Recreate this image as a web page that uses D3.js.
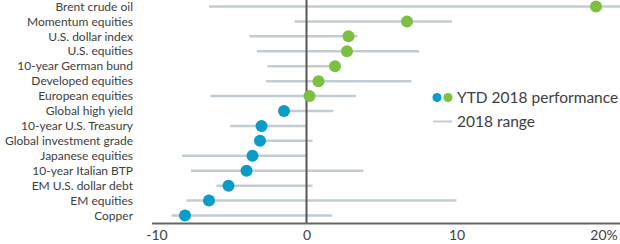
<!DOCTYPE html>
<html>
<head>
<meta charset="utf-8">
<script src="https://cdn.jsdelivr.net/npm/d3@7"></script>
<style>
  body { margin: 0; background: #fff; }
  svg text { font-family: Lato, "Noto Sans", sans-serif; fill: #3d3d3d; }
</style>
</head>
<body>
<svg id="chart"></svg>
<script>
const W = 620, H = 244;

const categories = [
    "Brent crude oil", "Momentum equities", "U.S. dollar index", "U.S. equities",
    "10-year German bund", "Developed equities", "European equities", "Global high yield",
    "10-year U.S. Treasury", "Global investment grade", "Japanese equities",
    "10-year Italian BTP", "EM U.S. dollar debt", "EM equities", "Copper"
];
const ytd = [19.3, 6.7, 2.8, 2.7, 1.9, 0.8, 0.2, -1.5, -3.0, -3.1, -3.6, -4.0, -5.2, -6.5, -8.1];
const rangeLow = [-6.5, -0.8, -3.8, -3.3, -2.6, -2.7, -6.4, -1.5, -5.1, -3.1, -8.3, -7.7, -6.0, -8.0, -9.0];
const rangeHigh = [21.5, 9.7, 3.4, 7.5, 2.1, 7.0, 3.3, 1.8, 0.0, 0.4, 0.0, 3.8, 0.4, 10.0, 1.7];
const xTicks = [-10, 0, 10, 20];

const BLUE = "#0a9cc9", GREEN = "#7cbf41", RANGE = "#c2cdd3";

let svg = d3.select("svg#chart").attr("width", W).attr("height", H);

let x = d3.scaleLinear().domain([-10, 20]).range([156.5, 606.5]);
let y = d3.scalePoint().domain(categories).range([6.5, 215.5]);

let rows = categories.map((c, i) => ({ c, v: ytd[i], lo: rangeLow[i], hi: rangeHigh[i] }));

// range lines
svg.selectAll(".range")
    .data(rows)
    .enter()
    .append("line")
    .attr("x1", d => x(d.lo))
    .attr("x2", d => Math.min(x(d.hi), W))
    .attr("y1", d => y(d.c))
    .attr("y2", d => y(d.c))
    .attr("stroke", RANGE)
    .attr("stroke-width", 2.5)

// zero line
svg.append("line")
    .attr("x1", x(0)).attr("x2", x(0))
    .attr("y1", 0).attr("y2", 223)
    .attr("stroke", "#555")
    .attr("stroke-width", 2)

// x axis
let xAxis = svg.append("g")
    .attr("transform", "translate(0,223.5)")
    .call(d3.axisBottom(x).tickValues(xTicks).tickSize(0).tickPadding(7)
        .tickFormat(d => d === 20 ? "20%" : String(d)));
xAxis.select(".domain").attr("d", `M152,0H${W}`).attr("stroke", "#666").attr("stroke-width", 2);
xAxis.selectAll("text").style("font-size", "14px").attr("fill", "#3d3d3d")
    .attr("dx", d => d === 20 ? -3 : 0);

// dots
svg.selectAll(".dot")
    .data(rows)
    .enter()
    .append("circle")
    .attr("cx", d => x(d.v))
    .attr("cy", d => y(d.c))
    .attr("r", 6)
    .attr("fill", d => d.v >= 0 ? GREEN : BLUE)

// category labels
svg.selectAll(".lab")
    .data(rows)
    .enter()
    .append("text")
    .attr("x", 133)
    .attr("y", d => y(d.c))
    .attr("dy", "0.35em")
    .attr("text-anchor", "end")
    .style("font-size", "12px")
    .text(d => d.c)

// legend
let lg = svg.append("g");
lg.append("circle").attr("cx", 437).attr("cy", 97.5).attr("r", 4.5).attr("fill", BLUE);
lg.append("circle").attr("cx", 448).attr("cy", 97.5).attr("r", 4.5).attr("fill", GREEN);
lg.append("text").attr("x", 457).attr("y", 97.5).attr("dy", "0.35em")
    .style("font-size", "15.5px").text("YTD 2018 performance");
lg.append("line").attr("x1", 433).attr("x2", 452).attr("y1", 121.5).attr("y2", 121.5)
    .attr("stroke", RANGE).attr("stroke-width", 2);
lg.append("text").attr("x", 457).attr("y", 121.5).attr("dy", "0.35em")
    .style("font-size", "15.5px").text("2018 range");
</script>
</body>
</html>
